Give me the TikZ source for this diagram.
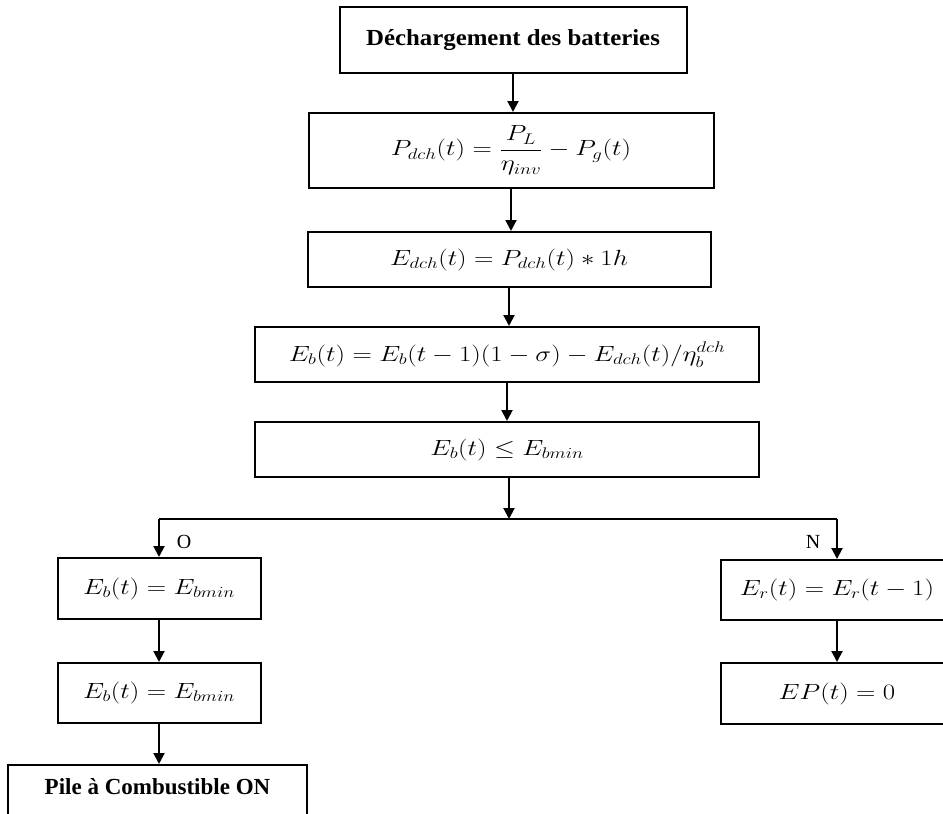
\RequirePackage{fix-cm}
\documentclass[tikz,border=0pt]{standalone}
\usepackage{amsmath}
\usepackage{fontspec}
\setmainfont{Liberation Serif}
\usetikzlibrary{arrows.meta}
\newcommand{\wmath}[1]{\scalebox{1.22}[1]{$\displaystyle #1$}}
\begin{document}
\begin{tikzpicture}[x=1pt,y=-1pt,
  box/.style={draw, line width=2pt, inner sep=0pt, font=\fontsize{22}{26}\selectfont},
  titletext/.style={font=\fontsize{23}{27}\selectfont\bfseries},
  lbl/.style={font=\fontsize{20}{24}\selectfont, inner sep=0pt},
  conn/.style={line width=2pt},
  arr/.style={line width=2pt, -{Triangle[width=11pt,length=11pt]}}]
\useasboundingbox (0,0) rectangle (943,814);
\clip (0,0) rectangle (943,814);
\node[box, minimum width=347, minimum height=66] (b1) at (513,40) {};
\node[titletext] (t1) at (b1.center) {\scalebox{1.08}[1]{Déchargement des batteries}};
\node[box, minimum width=405, minimum height=75] (b2) at (511,150.5) {\wmath{P_{dch}(t)=\frac{P_L}{\eta_{inv}}-P_g(t)}};
\node[box, minimum width=403, minimum height=55] (b3) at (509,259.5) {\wmath{E_{dch}(t)=P_{dch}(t)*1h}};
\node[box, minimum width=504, minimum height=55] (b4) at (507,354.5) {\wmath{E_b(t)=E_b(t-1)(1-\sigma)-E_{dch}(t)/\eta_b^{dch}}};
\node[box, minimum width=504, minimum height=55] (b5) at (507,449.5) {\wmath{E_b(t)\leq E_{bmin}}};
\coordinate (j) at (509,519);
\coordinate (jl) at (159,519);
\coordinate (jr) at (837,519);
\node[box, minimum width=203, minimum height=61] (b6) at (159,588.5) {\wmath{E_b(t)=E_{bmin}}};
\node[box, minimum width=203, minimum height=60] (b7) at (159,693) {\wmath{E_b(t)=E_{bmin}}};
\node[box, minimum width=299, minimum height=64] (b8) at (157.5,797) {};
\node[titletext] (t8) at (157.5,787) {Pile à Combustible ON};
\node[box, minimum width=232, minimum height=60] (b9) at (837,590) {\wmath{E_r(t)=E_r(t-1)}};
\node[box, minimum width=232, minimum height=61] (b10) at (837,693.5) {\wmath{EP(t)=0}};
\node[lbl] (lo) at (184,542) {O};
\node[lbl] (ln) at (813,542) {N};
\draw[arr] (b1.south) -- (b1.south |- b2.north);
\draw[arr] (b2.south) -- (b2.south |- b3.north);
\draw[arr] (b3.south) -- (b3.south |- b4.north);
\draw[arr] (b4.south) -- (b4.south |- b5.north);
\draw[arr] (b5.south -| j) -- (j);
\draw[conn] (jl) -- (jr);
\draw[arr] (jl) -- (b6.north);
\draw[arr] (jr) -- (b9.north);
\draw[arr] (b6.south) -- (b7.north);
\draw[arr] (b7.south) -- (b7.south |- b8.north);
\draw[arr] (b9.south) -- (b10.north);
\end{tikzpicture}
\end{document}
